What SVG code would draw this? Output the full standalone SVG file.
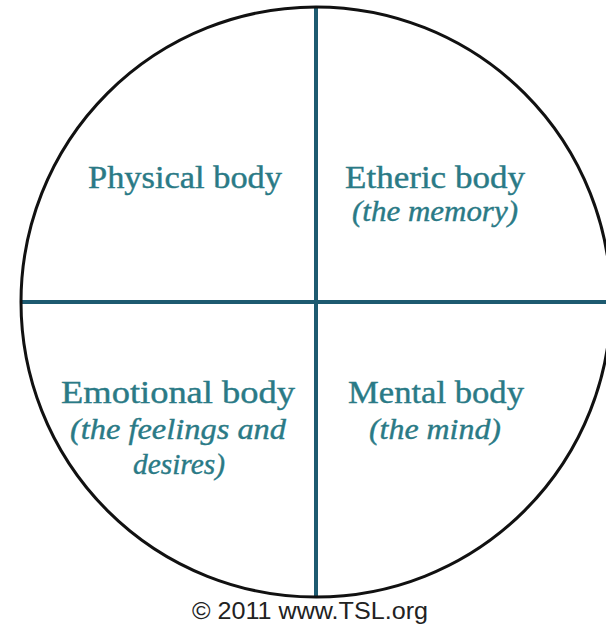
<svg xmlns="http://www.w3.org/2000/svg" width="606" height="630" viewBox="0 0 606 630">
<style>
.t{font-family:"Liberation Serif","Times New Roman",serif;fill:#2a7a86;text-anchor:middle;font-size:32px;stroke:#2a7a86;stroke-width:0.4}
.i{font-style:italic;font-size:30px}
.div{stroke:#1d5a70;stroke-width:4}
</style>
<rect width="606" height="630" fill="#fff"/>
<g id="connectors">
<line class="div" x1="316" y1="7" x2="316" y2="597"/>
<line class="div" x1="21" y1="302" x2="606" y2="302"/>
</g>
<g id="circle"><circle cx="316" cy="302" r="295" fill="none" stroke="#111" stroke-width="3"/></g>
<g id="physical"><text class="t" x="185" y="188" textLength="194" lengthAdjust="spacingAndGlyphs">Physical body</text></g>
<g id="etheric"><text class="t" x="435" y="188" textLength="180" lengthAdjust="spacingAndGlyphs">Etheric body</text><text class="t i" x="435" y="221" textLength="166" lengthAdjust="spacingAndGlyphs">(the memory)</text></g>
<g id="emotional"><text class="t" x="178" y="403" textLength="234" lengthAdjust="spacingAndGlyphs">Emotional body</text><text class="t i" x="178" y="439" textLength="216" lengthAdjust="spacingAndGlyphs">(the feelings and</text><text class="t i" x="179" y="474" textLength="92" lengthAdjust="spacingAndGlyphs">desires)</text></g>
<g id="mental"><text class="t" x="436" y="403" textLength="176" lengthAdjust="spacingAndGlyphs">Mental body</text><text class="t i" x="435" y="439" textLength="132" lengthAdjust="spacingAndGlyphs">(the mind)</text></g>
<text x="310" y="619" font-family="Liberation Sans, Arial, sans-serif" font-size="23" fill="#222" text-anchor="middle" textLength="236" lengthAdjust="spacingAndGlyphs">© 2011 www.TSL.org</text>
</svg>
